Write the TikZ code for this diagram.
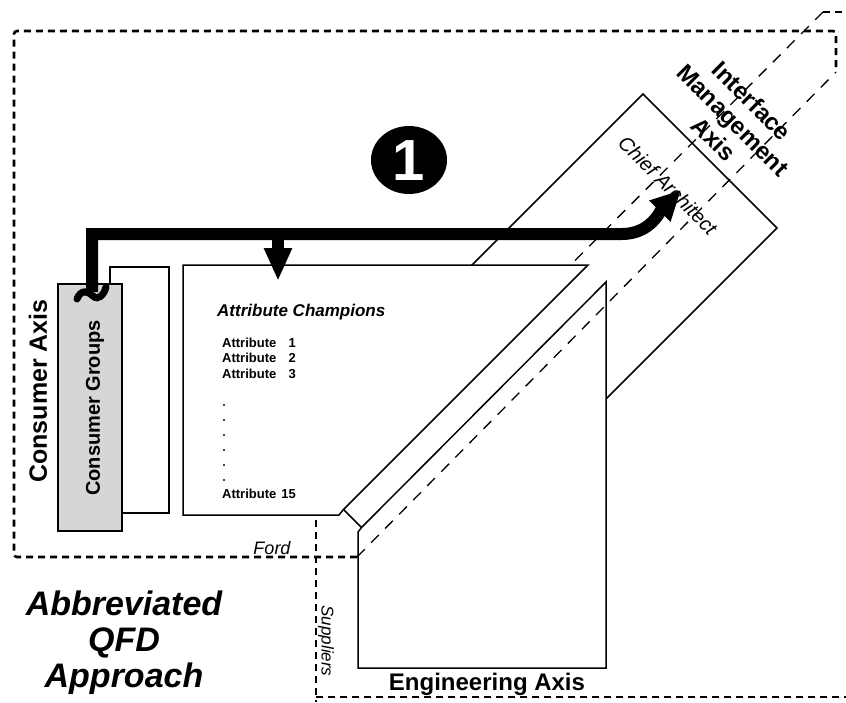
\documentclass[tikz,border=0pt]{standalone}
\usepackage{fontspec}
\setmainfont{Liberation Sans}
\setsansfont{Liberation Sans}
\usepackage{tikz}
\usetikzlibrary{arrows.meta,calc}
\definecolor{groupgray}{RGB}{214,214,214}
\newcommand{\qfdsize}[1]{\fontsize{#1}{#1}\selectfont}

\begin{document}
\begin{tikzpicture}[
  x=1pt, y=-1pt,
  font=\sffamily,
  box/.style={draw, line width=1.5pt, fill=white, line join=miter},
  border/.style={line width=2.6pt, dash pattern=on 7pt off 5pt},
  axisline/.style={line width=1.3pt, dash pattern=on 11pt off 9pt},
  bigar/.style={line width=12pt, line join=miter},
  axislbl/.style={font=\sffamily\bfseries\qfdsize{24}, inner sep=0pt},
  tag/.style={font=\sffamily\itshape\qfdsize{18}, inner sep=0pt},
  attr/.style={font=\sffamily\bfseries\qfdsize{13}, inner sep=0pt}
]
\useasboundingbox[fill=white] (0,0) rectangle (846,702);

% Ford and supplier borders
\draw[border, rounded corners=3pt] (357,557) -- (14,557) -- (14,31) -- (836,31) -- (836,72);
\draw[border] (316,520) -- (316,702);
\draw[border] (316,697) -- (846,697);
\draw[border] (823,12) -- (846,12);

% interface management band
\draw[box] (643,94) -- (777,228) -- (419.5,585.5) -- (285.5,451.5) -- cycle;
\draw[axisline] (823,12) -- (316,520);

\draw[box] (183,265) -- (588,265) -- (343,510) -- (339,515) -- (183,515) -- cycle;
\draw[box] (606,282) -- (606,668) -- (358,668) -- (358,532) -- (362,527) -- cycle;
\draw[axisline] (357,557) -- (836,72);

\draw[box] (110,267) rectangle (169,513);
\draw[box, fill=groupgray] (58,284) rectangle (122,531);

\node[tag, font=\sffamily\itshape\qfdsize{20}, rotate=-45] (chief) at (668,185) {Chief Architect};

% flow of attributes
\coordinate (cgtop) at (92,292);
\coordinate (catip) at (681,190);
\coordinate (split) at (278,234);
\coordinate (attrtip) at (278,281);
\draw[bigar, -{Triangle[length=30pt,width=28pt]}]
  (cgtop) -- (92,234) -- (622,234) to[out=0, in=225] (catip);
\draw[bigar, -{Triangle[length=33pt,width=26pt]}] (split) -- (attrtip);
\draw[line width=7pt, line cap=round]
  (77,299) .. controls (81,289) and (88,291) .. (93,296)
  .. controls (98,301) and (104,295) .. (106,287);

\fill (409,160) ellipse [x radius=38pt, y radius=34pt];
\node[font=\sffamily\bfseries\qfdsize{58}, text=white] (numone) at (409,161) {1};

% labels
\node[axislbl, font=\sffamily\bfseries\qfdsize{25}, rotate=90] (consaxis) at (38,391) {Consumer Axis};
\node[axislbl, font=\sffamily\bfseries\qfdsize{20}, rotate=90] (consgroups) at (95,408) {Consumer Groups};
\node[axislbl, rotate=-45, align=center, font=\sffamily\bfseries\fontsize{24}{27}\selectfont]
  (imaxis) at (733,120) {Interface\\Management\\Axis};
\node[axislbl] (engaxis) at (487,684) {Engineering Axis};
\node[tag] (ford) at (272,548) {Ford};
\node[tag, font=\sffamily\itshape\qfdsize{17}, rotate=-90] (suppliers) at (326,641) {Suppliers};
\node[tag, font=\sffamily\bfseries\itshape\qfdsize{17}, anchor=west] (champions) at (217,312) {Attribute Champions};

\foreach \n/\yy in {1/343, 2/358, 3/374, 15/494} {
  \node[attr, anchor=west] (attr\n) at (222,\yy) {Attribute};
  \node[attr, anchor=east] (idx\n) at (296,\yy) {\n};
}
\foreach \yy in {405,420,...,480}
  \fill (224,\yy) circle (1.1pt);

\node[font=\sffamily\bfseries\itshape\fontsize{34}{36}\selectfont, align=center]
  (title) at (124,643) {Abbreviated\\QFD\\Approach};
\end{tikzpicture}
\end{document}
